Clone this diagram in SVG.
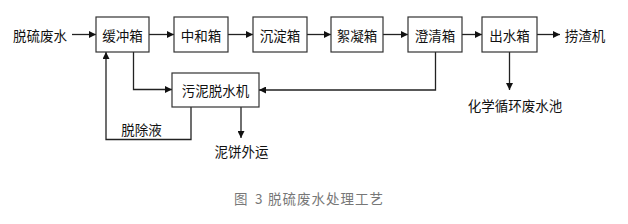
<svg xmlns="http://www.w3.org/2000/svg" width="628" height="224" viewBox="0 0 628 224">
<style>
.box{fill:#fff;stroke:#333;stroke-width:1.2}
.t{font-family:"Noto Sans CJK SC","Noto Sans",sans-serif;font-size:13.5px;fill:#111;text-anchor:middle;dominant-baseline:central}
.c{fill:none;stroke:#222;stroke-width:1.3}
.cap{font-family:"Noto Sans CJK SC","Noto Sans",sans-serif;font-size:13.5px;fill:#777;dominant-baseline:central}
</style>
<defs>
<marker id="ah" viewBox="0 0 10 10" refX="10" refY="5" markerWidth="8" markerHeight="7" markerUnits="userSpaceOnUse" orient="auto">
<path d="M0,0 L10,5 L0,10 z" fill="#111"/>
</marker>
</defs>
<rect width="628" height="224" fill="#fff"/>
<g id="connectors">
<line class="c" x1="72" y1="34.5" x2="96" y2="34.5" marker-end="url(#ah)"/>
<line class="c" x1="149" y1="34.5" x2="174" y2="34.5" marker-end="url(#ah)"/>
<line class="c" x1="228" y1="34.5" x2="253" y2="34.5" marker-end="url(#ah)"/>
<line class="c" x1="307" y1="34.5" x2="331" y2="34.5" marker-end="url(#ah)"/>
<line class="c" x1="383" y1="34.5" x2="408" y2="34.5" marker-end="url(#ah)"/>
<line class="c" x1="462" y1="34.5" x2="482" y2="34.5" marker-end="url(#ah)"/>
<line class="c" x1="537" y1="34.5" x2="560" y2="34.5" marker-end="url(#ah)"/>
<polyline class="c" points="133.5,52 133.5,89.5 172,89.5" marker-end="url(#ah)"/>
<polyline class="c" points="435.5,52 435.5,90 259,90" marker-end="url(#ah)"/>
<line class="c" x1="509.5" y1="52" x2="509.5" y2="90" marker-end="url(#ah)"/>
<polyline class="c" points="191,107 191,139.5 106,139.5 106,52" marker-end="url(#ah)"/>
<line class="c" x1="241" y1="107" x2="241" y2="138" marker-end="url(#ah)"/>
</g>
<g id="n-source"><text class="t" x="40" y="34.5">脱硫废水</text></g>
<g id="n-buffer"><rect class="box" x="96" y="17" width="53" height="35"/><text class="t" x="122.5" y="34.5">缓冲箱</text></g>
<g id="n-neutral"><rect class="box" x="174" y="17" width="54" height="35"/><text class="t" x="201" y="34.5">中和箱</text></g>
<g id="n-settle"><rect class="box" x="253" y="17" width="54" height="35"/><text class="t" x="280" y="34.5">沉淀箱</text></g>
<g id="n-floc"><rect class="box" x="331" y="17" width="52" height="35"/><text class="t" x="357" y="34.5">絮凝箱</text></g>
<g id="n-clar"><rect class="box" x="408" y="17" width="54" height="35"/><text class="t" x="435" y="34.5">澄清箱</text></g>
<g id="n-out"><rect class="box" x="482" y="17" width="55" height="35"/><text class="t" x="509.5" y="34.5">出水箱</text></g>
<g id="n-slag"><text class="t" x="585" y="34.5">捞渣机</text></g>
<g id="n-dewater"><rect class="box" x="172" y="73" width="87" height="34"/><text class="t" x="215.5" y="90">污泥脱水机</text></g>
<g id="n-pool"><text class="t" x="515" y="105">化学循环废水池</text></g>
<g id="n-cake"><text class="t" x="241.5" y="151">泥饼外运</text></g>
<g id="n-liquid"><text class="t" x="141.5" y="129">脱除液</text></g>
<text class="cap" y="198"><tspan x="234">图</tspan><tspan x="255">3</tspan><tspan x="268" letter-spacing="1">脱硫废水处理工艺</tspan></text>
</svg>
